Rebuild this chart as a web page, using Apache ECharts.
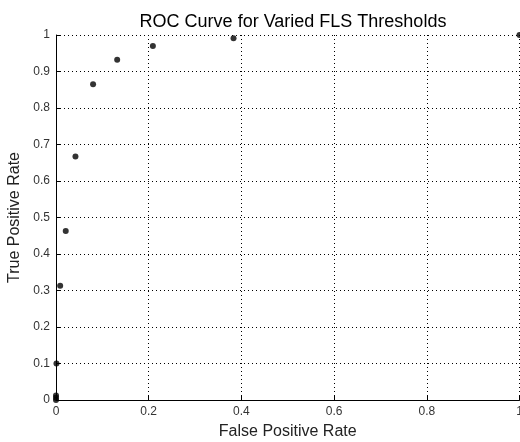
<!DOCTYPE html>
<html>
<head>
<meta charset="utf-8">
<script src="https://cdn.jsdelivr.net/npm/echarts@6/dist/echarts.min.js"></script>
<style>html,body{margin:0;padding:0;background:#fff;}#c{width:520px;height:442px;}</style>
</head>
<body>
<div id="c"></div>
<script>
const titleText = 'ROC Curve for Varied FLS Thresholds';
const xName = 'False Positive Rate';
const yName = 'True Positive Rate';
const fpr = [0, 0, 0, 0.001, 0.009, 0.021, 0.042, 0.080, 0.132, 0.209, 0.383, 1];
const tpr = [0, 0.006, 0.012, 0.100, 0.313, 0.463, 0.667, 0.865, 0.932, 0.970, 0.991, 1];
const points = fpr.map((x, i) => [x, tpr[i]]);
const font = "'Liberation Sans', Arial, Helvetica, sans-serif";

const chart = echarts.init(document.getElementById('c'), null, {renderer: 'canvas'});
chart.setOption({
  animation: false,
  backgroundColor: '#fff',
  title: {
    text: titleText, left: 288, top: 8, textAlign: 'center',
    textStyle: {fontFamily: font, fontSize: 18, fontWeight: 'normal', color: '#000'}
  },
  grid: {left: 56, right: 0.5, top: 35, bottom: 42, containLabel: false, outerBoundsMode: 'none'},
  xAxis: {
    type: 'value', min: 0, max: 1, interval: 0.2,
    name: xName, nameLocation: 'middle', nameGap: 24,
    nameTextStyle: {fontFamily: font, fontSize: 16, color: '#222'},
    axisLine: {show: true, onZero: false, lineStyle: {color: '#000', width: 1}},
    axisTick: {show: true, inside: true, length: 4, lineStyle: {color: '#000'}},
    axisLabel: {fontFamily: font, fontSize: 12, color: '#333', margin: 6, hideOverlap: false},
    splitLine: {show: true, lineStyle: {color: '#000', type: [1, 3], width: 1}}
  },
  yAxis: {
    type: 'value', min: 0, max: 1, interval: 0.1,
    name: yName, nameLocation: 'middle', nameGap: 25,
    nameTextStyle: {fontFamily: font, fontSize: 16, color: '#222'},
    axisLine: {show: true, onZero: false, lineStyle: {color: '#000', width: 1}},
    axisTick: {show: true, inside: true, length: 4, lineStyle: {color: '#000'}},
    axisLabel: {fontFamily: font, fontSize: 12, color: '#333', margin: 6, hideOverlap: false},
    splitLine: {show: true, lineStyle: {color: '#000', type: [1, 3], width: 1}}
  },
  series: [{
    type: 'scatter', data: points, symbol: 'circle', symbolSize: 6, clip: false,
    itemStyle: {color: '#000'}
  }]
});
</script>
</body>
</html>
